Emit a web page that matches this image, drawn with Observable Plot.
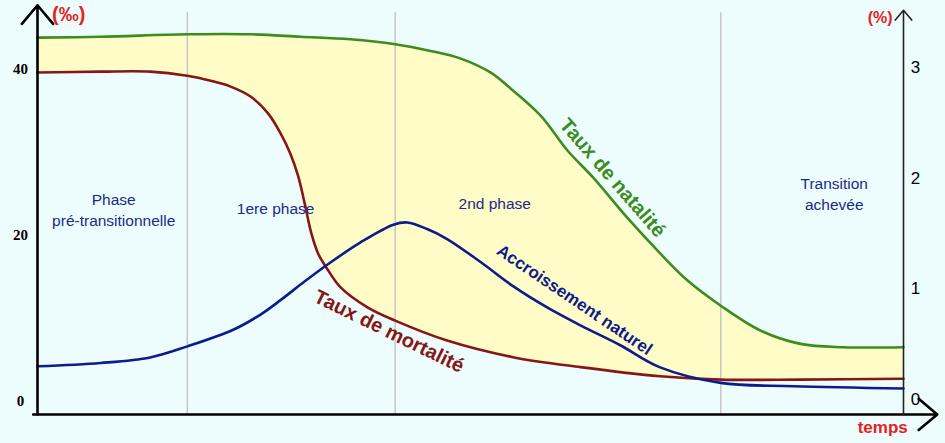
<!DOCTYPE html>
<html>
<head>
<meta charset="utf-8">
<script src="https://cdn.jsdelivr.net/npm/d3@7"></script>
<script src="https://cdn.jsdelivr.net/npm/@observablehq/plot@0.6"></script>
<style>
  html, body { margin: 0; padding: 0; background: #EDFDFD; }
  #chart svg { display: block; }
</style>
</head>
<body>
<div id="chart"></div>
<script>
// ---- data (time in arbitrary units 0..100) ----
const natalityT = [0, 7.3, 17.3, 24.6, 30.4, 36.1, 41.3, 45.4, 48.8, 52.3, 54.6, 58.1, 61.2, 64.2, 68.1, 71.9, 75.1, 78.9, 83.5, 88.1, 93.1, 100];
const natalityV = [43.6, 43.7, 44.0, 44.0, 43.7, 43.4, 42.8, 42.0, 41.1, 39.4, 37.5, 34.2, 30.0, 26.7, 21.9, 17.6, 14.3, 11.3, 8.3, 6.7, 6.3, 6.3]; // ‰

const mortalityT = [0, 7.3, 13.0, 17.3, 20.0, 22.3, 24.6, 26.6, 28.1, 29.2, 30.1, 30.9, 31.6, 32.4, 33.6, 35.0, 38.1, 41.3, 47.3, 54.9, 62.7, 71.9, 78.9, 88.1, 100];
const mortalityV = [39.4, 39.5, 39.5, 39.0, 38.4, 37.7, 36.5, 34.5, 32.0, 29.6, 26.9, 23.4, 20.1, 17.6, 15.5, 13.5, 11.1, 9.5, 7.1, 5.1, 3.9, 2.8, 2.4, 2.4, 2.5]; // ‰

const growthT = [0, 7.3, 13.0, 17.3, 22.6, 25.8, 28.1, 30.9, 33.5, 37.3, 41.1, 42.7, 45.0, 47.3, 51.2, 55.0, 58.9, 62.7, 67.3, 71.9, 78.9, 87.3, 100];
const growthV = [0.30, 0.33, 0.38, 0.48, 0.63, 0.77, 0.90, 1.07, 1.22, 1.42, 1.58, 1.60, 1.54, 1.45, 1.24, 1.02, 0.83, 0.67, 0.49, 0.29, 0.15, 0.12, 0.10]; // %

const leftTicks = [0, 20, 40];      // ‰
const rightTicks = [0, 1, 2, 3];    // %
const phaseBounds = [17.3, 41.3, 78.9];
const phaseLabels = [
  {t: 8.8,  v: 23.0, text: "Phase\npré-transitionnelle"},
  {t: 27.5, v: 23.2, text: "1ere phase"},
  {t: 52.8, v: 23.7, text: "2nd phase"},
  {t: 92.0, v: 24.9, text: "Transition\nachevée"}
];

// ---- build tables ----
const natality = natalityT.map((t, i) => ({t, v: natalityV[i]}));
const mortality = mortalityT.map((t, i) => ({t, v: mortalityV[i]}));
const growth = growthT.map((t, i) => ({t, v: growthV[i]}));
const pctToPermil = 40 / 3; // right axis: 3 % aligned with 40 ‰

const BG = "#EDFDFD";
const YELLOW = "#FFFCC8";
const GREEN = "#3C8C1E";
const RED = "#861717";
const BLUE = "#0C1C8C";
const LABEL = "#1C2A8A";
const AXISRED = "#E52222";
const CURVE = "catmull-rom";

const yBottom = -1.8, yTopLeft = 47.5, yTopRight = 46.9, yPhaseTop = 46.6, xEnd = 103.9;

const chart = Plot.plot({
  width: 945,
  height: 443,
  margin: 0,
  style: {background: BG, overflow: "visible"},
  x: {domain: [0, 100], range: [37, 903], axis: null},
  y: {domain: [0, 40], range: [399, 67], axis: null},
  marks: [
    Plot.areaY(natality, {x: "t", y: "v", fill: YELLOW, curve: CURVE}),
    Plot.areaY(mortality, {x: "t", y: "v", fill: BG, curve: CURVE}),
    Plot.ruleX(phaseBounds, {y1: yBottom, y2: yPhaseTop, stroke: "#C6C6C6", strokeWidth: 1.5}),
    Plot.line(natality, {x: "t", y: "v", stroke: GREEN, strokeWidth: 2.6, curve: CURVE}),
    Plot.line(mortality, {x: "t", y: "v", stroke: RED, strokeWidth: 2.6, curve: CURVE}),
    Plot.line(growth, {x: "t", y: d => d.v * pctToPermil, stroke: BLUE, strokeWidth: 2.6, curve: CURVE}),
    // axes
    Plot.arrow([{x1: 0, y1: yBottom, x2: 0, y2: yTopLeft}], {x1: "x1", y1: "y1", x2: "x2", y2: "y2", stroke: "#000", strokeWidth: 2.6, headLength: 14, headAngle: 80}),
    Plot.arrow([{x1: -0.5, y1: yBottom, x2: xEnd, y2: yBottom}], {x1: "x1", y1: "y1", x2: "x2", y2: "y2", stroke: "#000", strokeWidth: 2.6, headLength: 14, headAngle: 80}),
    Plot.arrow([{x1: 100, y1: yBottom, x2: 100, y2: yTopRight}], {x1: "x1", y1: "y1", x2: "x2", y2: "y2", stroke: "#222", strokeWidth: 1.6, headLength: 12, headAngle: 80}),
    // tick labels
    Plot.text(leftTicks, {x: 0, y: d => d, text: d => String(d), dx: -17, dy: 2, fontFamily: "Liberation Serif", fontWeight: "bold", fontSize: 15, fill: "#000"}),
    Plot.text(rightTicks, {x: 100, y: d => d * pctToPermil, text: d => String(d), dx: 12, fontFamily: "Liberation Sans", fontSize: 17, fill: "#000"}),
    // unit labels
    Plot.text(["(‰)"], {x: 3.6, y: 46.4, text: d => d, fontFamily: "Liberation Sans", fontWeight: "bold", fontSize: 20, fill: AXISRED}),
    Plot.text(["(%)"], {x: 97.3, y: 46.0, text: d => d, fontFamily: "Liberation Sans", fontWeight: "bold", fontSize: 16, fill: AXISRED}),
    Plot.text(["temps"], {x: 97.6, y: -3.4, text: d => d, fontFamily: "Liberation Sans", fontWeight: "bold", fontSize: 17, fill: AXISRED}),
    // phase labels
    Plot.text(phaseLabels, {x: "t", y: "v", text: "text", fontFamily: "Liberation Sans", fontSize: 15.5, fill: LABEL, lineHeight: 1.35}),
    // curve labels
    Plot.text(["Taux de natalité"], {x: 66.4, y: 26.7, text: d => d, rotate: 49, fontFamily: "Liberation Sans", fontWeight: "bold", fontSize: 20, fill: GREEN}),
    Plot.text(["Taux de mortalité"], {x: 40.6, y: 8.2, text: d => d, rotate: 26, fontFamily: "Liberation Sans", fontWeight: "bold", fontSize: 20, fill: RED}),
    Plot.text(["Accroissement naturel"], {x: 62.0, y: 12.0, text: d => d, rotate: 34, fontFamily: "Liberation Sans", fontWeight: "bold", fontSize: 17, fill: BLUE})
  ]
});
document.getElementById("chart").appendChild(chart);
</script>
</body>
</html>
